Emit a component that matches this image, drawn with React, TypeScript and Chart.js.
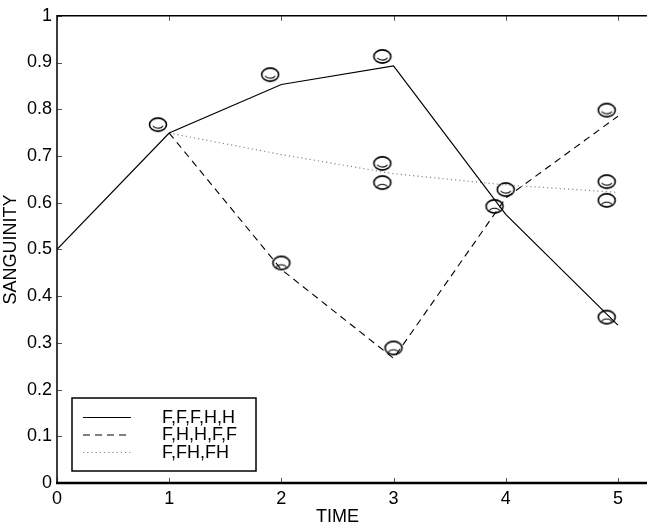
import React, { useEffect, useRef } from "react";
import { Chart, registerables } from "chart.js";
Chart.register(...registerables);

const seriesLabels = ["F,F,F,H,H", "F,H,H,F,F", "F,FH,FH"];
const timeSolid = [0, 1, 2, 3, 4, 5];
const solidValues = [0.5, 0.749, 0.853, 0.893, 0.575, 0.338];
const timeBranch = [1, 2, 3, 4, 5];
const dashedValues = [0.749, 0.457, 0.267, 0.61, 0.785];
const dottedValues = [0.749, 0.703, 0.662, 0.638, 0.622];
const happyX = [0.9, 1.9, 2.9, 2.9, 4.0, 4.9, 4.9];
const happyY = [0.767, 0.874, 0.913, 0.684, 0.628, 0.798, 0.645];
const sadX = [2.9, 2.0, 3.0, 3.9, 4.9, 4.9];
const sadY = [0.643, 0.471, 0.289, 0.592, 0.605, 0.355];
const xTicks = [0, 1, 2, 3, 4, 5];
const yTicks = [0, 0.1, 0.2, 0.3, 0.4, 0.5, 0.6, 0.7, 0.8, 0.9, 1];
const xTitle = "TIME";
const yTitle = "SANGUINITY";

const FONT = "Liberation Sans, Arial, Helvetica, sans-serif";
const FS = 18;

function makeFace(happy: boolean): HTMLCanvasElement {
  const c = document.createElement("canvas");
  c.width = 22;
  c.height = 17;
  const ctx = c.getContext("2d")!;
  ctx.strokeStyle = "#000";
  ctx.lineWidth = 1.6;
  ctx.beginPath();
  ctx.ellipse(11, 8.5, 8.5, 6.6, 0, 0, Math.PI * 2);
  ctx.stroke();
  ctx.lineWidth = 1.1;
  ctx.beginPath();
  if (happy) {
    ctx.ellipse(11, 8.5, 5.5, 3.5, 0, 0.12 * Math.PI, 0.88 * Math.PI);
  } else {
    ctx.ellipse(11, 14, 5.5, 3.8, 0, 1.12 * Math.PI, 1.88 * Math.PI);
  }
  ctx.stroke();
  return c;
}

const pts = (xs: number[], ys: number[]) => xs.map((x, i) => ({ x, y: ys[i] }));

export default function App() {
  const ref = useRef<HTMLCanvasElement | null>(null);
  useEffect(() => {
    document.body.style.overflow = "hidden";
    const canvas = ref.current!;
    const happy = makeFace(true);
    const sad = makeFace(false);

    const framePlugin = {
      id: "frame",
      afterDraw(chart: any) {
        const { ctx, chartArea } = chart;
        const { left, right, top, bottom } = chartArea;
        const xs = chart.scales.x;
        const ys = chart.scales.y;
        ctx.save();
        ctx.strokeStyle = "#555";
        ctx.lineWidth = 1;
        ctx.beginPath();
        xTicks.forEach((v) => {
          const px = Math.round(xs.getPixelForValue(v)) + 0.5;
          ctx.moveTo(px, bottom);
          ctx.lineTo(px, bottom - 5);
          ctx.moveTo(px, top);
          ctx.lineTo(px, top + 5);
        });
        yTicks.forEach((v) => {
          const py = Math.round(ys.getPixelForValue(v)) + 0.5;
          ctx.moveTo(left, py);
          ctx.lineTo(left + 5, py);
          ctx.moveTo(right, py);
          ctx.lineTo(right - 5, py);
        });
        ctx.stroke();
        ctx.strokeStyle = "#000";
        ctx.lineWidth = 1.5;
        ctx.beginPath();
        ctx.moveTo(left, bottom);
        ctx.lineTo(left, top);
        ctx.lineTo(right, top);
        ctx.lineTo(right, bottom);
        ctx.stroke();
        ctx.lineWidth = 2.5;
        ctx.beginPath();
        ctx.moveTo(left - 1, bottom);
        ctx.lineTo(right, bottom);
        ctx.stroke();

        ctx.fillStyle = "#000";
        ctx.font = `${FS}px ${FONT}`;
        ctx.textAlign = "center";
        ctx.textBaseline = "middle";
        ctx.fillText(xTitle, xs.getPixelForValue(2.5), 517);
        ctx.save();
        ctx.translate(11, (top + bottom) / 2);
        ctx.rotate(-Math.PI / 2);
        ctx.fillText(yTitle, 0, 0);
        ctx.restore();

        const bx = left + 15;
        const by = 398;
        const bw = 184;
        const bh = 73;
        ctx.fillStyle = "#fff";
        ctx.fillRect(bx, by, bw, bh);
        ctx.strokeStyle = "#000";
        ctx.lineWidth = 1.5;
        ctx.strokeRect(bx, by, bw, bh);
        const rows = [417, 434.5, 452];
        for (let i = 0; i < 3; i++) {
          const ds = chart.data.datasets[i];
          ctx.save();
          ctx.strokeStyle = ds.borderColor;
          ctx.lineWidth = ds.borderWidth;
          ctx.setLineDash(ds.borderDash || []);
          ctx.beginPath();
          ctx.moveTo(bx + 11, rows[i] + 0.5);
          ctx.lineTo(bx + 59, rows[i] + 0.5);
          ctx.stroke();
          ctx.restore();
          ctx.fillStyle = "#000";
          ctx.textAlign = "left";
          ctx.textBaseline = "middle";
          ctx.font = `${FS}px ${FONT}`;
          ctx.fillText(ds.label, bx + 90, rows[i] + 1);
        }
        ctx.restore();
      },
    };

    const chart = new Chart(canvas, {
      type: "scatter",
      data: {
        datasets: [
          {
            label: seriesLabels[0],
            data: pts(timeSolid, solidValues),
            showLine: true,
            borderColor: "#000",
            borderWidth: 1.2,
            borderDash: [],
            pointRadius: 0,
          },
          {
            label: seriesLabels[1],
            data: pts(timeBranch, dashedValues),
            showLine: true,
            borderColor: "#000",
            borderWidth: 1.1,
            borderDash: [7, 5],
            pointRadius: 0,
          },
          {
            label: seriesLabels[2],
            data: pts(timeBranch, dottedValues),
            showLine: true,
            borderColor: "#888",
            borderWidth: 1.2,
            borderDash: [1.2, 3],
            pointRadius: 0,
          },
          {
            label: "happy",
            data: pts(happyX, happyY),
            pointStyle: happy as any,
            showLine: false,
          },
          {
            label: "sad",
            data: pts(sadX, sadY),
            pointStyle: sad as any,
            showLine: false,
          },
        ] as any,
      },
      options: {
        animation: false,
        responsive: false,
        maintainAspectRatio: false,
        devicePixelRatio: 1,
        layout: { padding: { top: 13, right: 26, left: 0, bottom: 0 } },
        plugins: { legend: { display: false }, tooltip: { enabled: false } },
        scales: {
          x: {
            type: "linear",
            min: 0,
            max: 5.5,
            afterBuildTicks: (s: any) => {
              s.ticks = xTicks.map((v) => ({ value: v }));
            },
            afterFit: (s: any) => {
              s.height = 43;
            },
            grid: { display: false, drawTicks: false },
            border: { display: false },
            ticks: {
              color: "#000",
              font: { size: FS, family: FONT },
              padding: 5,
              maxRotation: 0,
              autoSkip: false,
              callback: (v: any) => String(v),
            },
          },
          y: {
            type: "linear",
            min: 0,
            max: 1,
            afterBuildTicks: (s: any) => {
              s.ticks = yTicks.map((v) => ({ value: v }));
            },
            afterFit: (s: any) => {
              s.width = 57;
            },
            grid: { display: false, drawTicks: false },
            border: { display: false },
            ticks: {
              color: "#000",
              font: { size: FS, family: FONT },
              padding: 5,
              autoSkip: false,
              callback: (v: any) => (v === 0 ? "0" : v === 1 ? "1" : Number(v).toFixed(1)),
            },
          },
        },
      } as any,
      plugins: [framePlugin],
    });
    return () => chart.destroy();
  }, []);
  return (
    <canvas
      ref={ref}
      width={700}
      height={526}
      style={{ position: "fixed", left: 0, top: 0, width: 700, height: 526 }}
    />
  );
}
